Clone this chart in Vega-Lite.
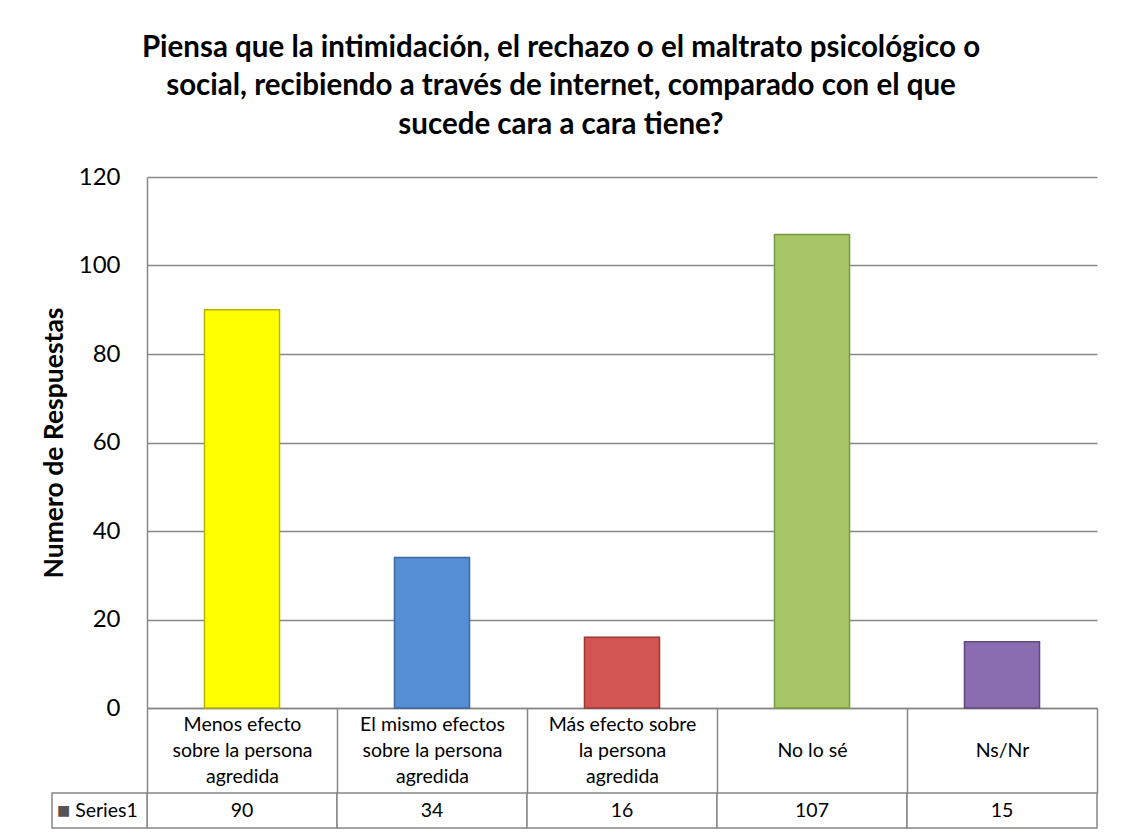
{
  "$schema": "https://vega.github.io/schema/vega-lite/v6.json",
  "width": 950,
  "height": 531,
  "autosize": {"type": "none"},
  "padding": {"left": 147, "top": 177, "right": 25, "bottom": 132},
  "background": "white",
  "config": {"view": {"stroke": null}, "font": "Lato"},
  "title": {
    "text": [
      "Piensa que la intimidación, el rechazo o el maltrato psicológico o",
      "social, recibiendo a través de internet, comparado con el que",
      "sucede cara a cara tiene?"
    ],
    "font": "Lato",
    "fontSize": 29.5,
    "fontWeight": "bold",
    "color": "black",
    "lineHeight": 38.5,
    "anchor": "middle",
    "dx": -61,
    "offset": 25
  },
  "datasets": {
    "main": [
      {"cat": "Menos efecto|sobre la persona|agredida", "value": 90},
      {"cat": "El mismo efectos|sobre la persona|agredida", "value": 34},
      {"cat": "Más efecto sobre|la persona|agredida", "value": 16},
      {"cat": "No lo sé", "value": 107},
      {"cat": "Ns/Nr", "value": 15}
    ],
    "series": [{"series": "Series1"}]
  },
  "resolve": {"scale": {"x": "independent", "y": "independent", "color": "independent", "stroke": "independent"}},
  "layer": [
    {
      "data": {"name": "main"},
      "mark": {"type": "bar", "width": {"band": 0.395}, "strokeWidth": 1.5},
      "encoding": {
        "x": {
          "field": "cat", "type": "nominal", "sort": null,
          "scale": {"paddingInner": 0, "paddingOuter": 0},
          "axis": {
            "orient": "bottom", "title": null, "labelAngle": 0,
            "labelExpr": "indexof(datum.label, '|') >= 0 ? split(datum.label, '|') : ['', datum.label]",
            "labelFont": "Lato", "labelFontSize": 19.5, "labelLineHeight": 26, "labelColor": "black",
            "labelBaseline": "middle", "labelPadding": -69,
            "tickBand": "extent", "tickSize": 85, "tickColor": "#878787", "tickWidth": 1.5,
            "domainColor": "#878787", "domainWidth": 1.5
          }
        },
        "y": {
          "field": "value", "type": "quantitative",
          "scale": {"domain": [0, 120]},
          "axis": {
            "values": [0, 20, 40, 60, 80, 100, 120],
            "grid": true, "gridColor": "#878787", "gridWidth": 1.5,
            "domain": true, "domainColor": "#878787", "domainWidth": 1.5,
            "ticks": false,
            "labelFont": "Lato", "labelFontSize": 24, "labelColor": "black", "labelPadding": 27,
            "title": "Numero de Respuestas", "titleFont": "Lato", "titleFontSize": 26.5,
            "titleFontWeight": "bold", "titleColor": "black", "titlePadding": 10
          }
        },
        "color": {
          "field": "cat", "type": "nominal", "sort": null, "legend": null,
          "scale": {"range": ["#FFFF00", "#558ED5", "#D25551", "#A5C566", "#8A6CB0"]}
        },
        "stroke": {
          "field": "cat", "type": "nominal", "sort": null, "legend": null,
          "scale": {"range": ["#B5B500", "#3A6AA6", "#9C3733", "#7A9A40", "#62487F"]}
        }
      }
    },
    {
      "data": {"name": "main"},
      "mark": {"type": "rect", "fill": "white", "stroke": "#878787", "strokeWidth": 1.5},
      "encoding": {
        "x": {"field": "cat", "type": "nominal", "sort": null, "scale": {"paddingInner": 0, "paddingOuter": 0}, "axis": null},
        "y": {"datum": "Series1", "type": "nominal", "scale": {"domain": ["Series1"], "range": [616, 651], "paddingInner": 0, "paddingOuter": 0}, "axis": null}
      }
    },
    {
      "data": {"name": "main"},
      "mark": {"type": "text", "font": "Lato", "fontSize": 19.5, "color": "black", "baseline": "middle"},
      "encoding": {
        "x": {"field": "cat", "type": "nominal", "sort": null, "scale": {"paddingInner": 0, "paddingOuter": 0}, "axis": null},
        "y": {"datum": "Series1", "type": "nominal", "scale": {"domain": ["Series1"], "range": [616, 651], "paddingInner": 0, "paddingOuter": 0}, "axis": null},
        "text": {"field": "value", "type": "quantitative"}
      }
    },
    {
      "data": {"name": "series"},
      "mark": {"type": "rect", "fill": "white", "stroke": "#878787", "strokeWidth": 1.5},
      "encoding": {
        "x": {"field": "series", "type": "nominal", "scale": {"domain": ["Series1"], "range": [-95, 0], "paddingInner": 0, "paddingOuter": 0}, "axis": null},
        "y": {"field": "series", "type": "nominal", "scale": {"domain": ["Series1"], "range": [616, 651], "paddingInner": 0, "paddingOuter": 0}, "axis": null}
      }
    },
    {
      "data": {"name": "series"},
      "mark": {"type": "text", "font": "Lato", "fontSize": 19.5, "color": "black", "baseline": "middle", "dx": 7},
      "encoding": {
        "x": {"field": "series", "type": "nominal", "scale": {"domain": ["Series1"], "range": [-95, 0], "paddingInner": 0, "paddingOuter": 0}, "axis": null},
        "y": {"field": "series", "type": "nominal", "scale": {"domain": ["Series1"], "range": [616, 651], "paddingInner": 0, "paddingOuter": 0}, "axis": null},
        "text": {"field": "series", "type": "nominal"}
      }
    },
    {
      "data": {"name": "series"},
      "mark": {"type": "text", "font": "DejaVu Sans", "fontSize": 14, "color": "#555555", "baseline": "middle", "dx": -36, "text": "■"},
      "encoding": {
        "x": {"field": "series", "type": "nominal", "scale": {"domain": ["Series1"], "range": [-95, 0], "paddingInner": 0, "paddingOuter": 0}, "axis": null},
        "y": {"field": "series", "type": "nominal", "scale": {"domain": ["Series1"], "range": [616, 651], "paddingInner": 0, "paddingOuter": 0}, "axis": null}
      }
    }
  ]
}
